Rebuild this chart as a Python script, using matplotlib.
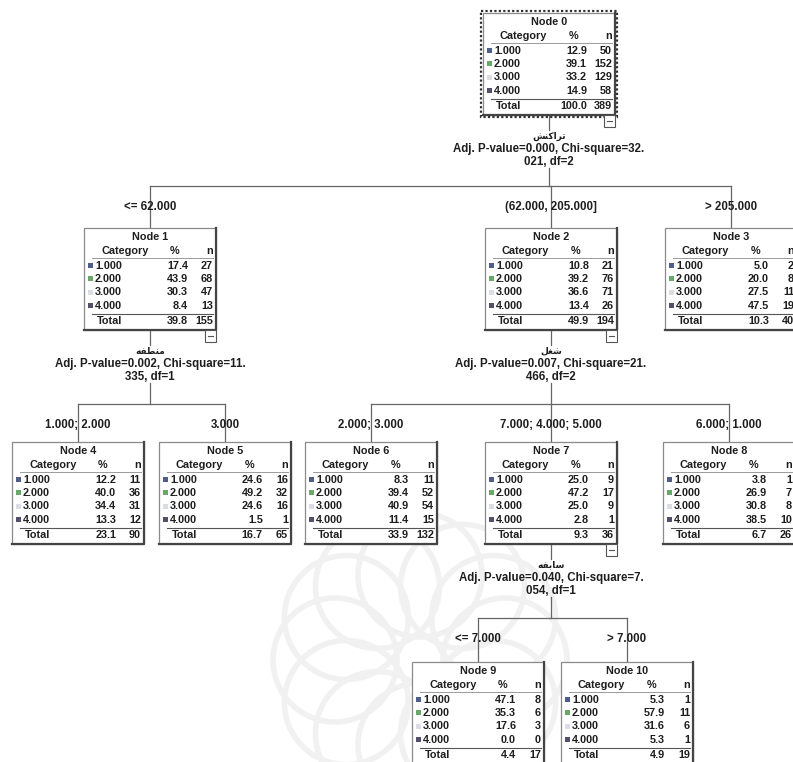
import matplotlib
matplotlib.use("Agg")
import matplotlib.pyplot as plt
from matplotlib.patches import Rectangle, Circle
import numpy as np

# ---------------- data ----------------
categories = ["1.000", "2.000", "3.000", "4.000"]
node_names = ["Node 0", "Node 1", "Node 2", "Node 3", "Node 4", "Node 5",
              "Node 6", "Node 7", "Node 8", "Node 9", "Node 10"]
node_pct = [
    [12.9, 39.1, 33.2, 14.9],
    [17.4, 43.9, 30.3, 8.4],
    [10.8, 39.2, 36.6, 13.4],
    [5.0, 20.0, 27.5, 47.5],
    [12.2, 40.0, 34.4, 13.3],
    [24.6, 49.2, 24.6, 1.5],
    [8.3, 39.4, 40.9, 11.4],
    [25.0, 47.2, 25.0, 2.8],
    [3.8, 26.9, 30.8, 38.5],
    [47.1, 35.3, 17.6, 0.0],
    [5.3, 57.9, 31.6, 5.3],
]
node_n = [
    [50, 152, 129, 58],
    [27, 68, 47, 13],
    [21, 76, 71, 26],
    [2, 8, 11, 19],
    [11, 36, 31, 12],
    [16, 32, 16, 1],
    [11, 52, 54, 15],
    [9, 17, 9, 1],
    [1, 7, 8, 10],
    [8, 6, 3, 0],
    [1, 11, 6, 1],
]
total_pct = [100.0, 39.8, 49.9, 10.3, 23.1, 16.7, 33.9, 9.3, 6.7, 4.4, 4.9]
total_n = [389, 155, 194, 40, 90, 65, 132, 36, 26, 17, 19]

# tree structure: parent -> children, with branch labels
children = {0: [1, 2, 3], 1: [4, 5], 2: [6, 7, 8], 7: [9, 10]}
branch_labels = {1: "<= 62.000", 2: "(62.000, 205.000]", 3: "> 205.000",
                 4: "1.000; 2.000", 5: "3.000",
                 6: "2.000; 3.000", 7: "7.000; 4.000; 5.000", 8: "6.000; 1.000",
                 9: "<= 7.000", 10: "> 7.000"}

# split variables (Persian, pre-shaped into presentation forms, visual order)
split_var = {
    0: "\uFEB6\uFEE8\uFB90\uFE8D\uFEAE\uFE97",   # تراکنش
    1: "\uFEEA\uFED4\uFEC4\uFEE8\uFEE3",          # منطقه
    2: "\uFEDE\uFED0\uFEB7",                      # شغل
    7: "\uFEEA\uFED4\uFE91\uFE8E\uFEB3",          # سابقه
}
split_stats = {
    0: ("Adj. P-value=0.000, Chi-square=32.", "021, df=2"),
    1: ("Adj. P-value=0.002, Chi-square=11.", "335, df=1"),
    2: ("Adj. P-value=0.007, Chi-square=21.", "466, df=2"),
    7: ("Adj. P-value=0.040, Chi-square=7.", "054, df=1"),
}

# ---------------- layout (pixels) ----------------
node_left = [483, 84, 485, 665, 12, 159, 305, 485, 663, 412, 561]
node_top = [13, 228, 228, 228, 442, 442, 442, 442, 442, 662, 662]
W = 132
H = 102
level_bar_y = {0: 186, 1: 404, 2: 404, 7: 618}

cat_colors = ["#4f5d8a", "#6aa86a", "#dcdce4", "#55506a"]
txt_color = "#1e1e1e"
FS = 7.8
FS_SPLIT = 8.3

fig = plt.figure(figsize=(7.93, 7.62), dpi=100)
ax = fig.add_axes([0, 0, 1, 1])
ax.set_xlim(0, 793)
ax.set_ylim(762, 0)
ax.axis("off")

# faint watermark rosette at bottom centre
for k in range(12):
    ang = np.deg2rad(k * 30)
    cx, cy = 420 + 85 * np.cos(ang), 660 + 85 * np.sin(ang)
    ax.add_patch(Circle((cx, cy), 62, fill=False, ec="#f1f1f1", lw=4, zorder=0))


def T(x, y, s, ha="center", fs=FS, family=None, **kw):
    kws = dict(ha=ha, va="center", fontsize=fs, color=txt_color,
               fontweight="bold", zorder=5)
    kws["family"] = family if family else ["Liberation Sans", "DejaVu Sans"]
    kws.update(kw)
    ax.text(x, y, s, **kws)


def center(i):
    return node_left[i] + W / 2


def draw_node(i):
    L, top = node_left[i], node_top[i]
    R = L + W
    bot = top + H
    ax.add_patch(Rectangle((L, top), W, H, fc="white", ec="#8a8a8a", lw=0.9, zorder=2))
    # shadowed right/bottom edges
    ax.plot([R, R, L], [top, bot, bot], color="#444444", lw=1.6, zorder=3)
    if i == 0:
        ax.add_patch(Rectangle((L - 2, top - 2), W + 4, H + 4, fill=False,
                               ec="#333333", lw=1.6, ls=(0, (1, 1)), zorder=3))
    T(L + W / 2, top + 9, node_names[i])
    T(L + 17, top + 23, "Category", ha="left")
    T(L + 91, top + 23, "%", ha="center")
    T(R - 3, top + 23, "n", ha="right")
    ax.plot([L + 8, R - 3], [top + 29.5, top + 29.5], color="#9a9a9a", lw=0.7, zorder=3)
    for k, cat in enumerate(categories):
        y = top + 38 + 13.2 * k
        ax.add_patch(Rectangle((L + 4, y - 2.8), 5, 5, fc=cat_colors[k],
                               ec="none", zorder=4))
        T(L + 11, y, cat, ha="left")
        T(L + 104, y, f"{node_pct[i][k]:.1f}", ha="right")
        T(R - 3, y, f"{node_n[i][k]}", ha="right")
    ax.plot([L + 8, R - 3], [top + 86, top + 86], color="#555555", lw=0.8, zorder=3)
    T(L + 13, top + 93, "Total", ha="left")
    T(L + 104, top + 93, f"{total_pct[i]:.1f}", ha="right")
    T(R - 3, top + 93, f"{total_n[i]}", ha="right")
    if i in children:
        ax.add_patch(Rectangle((R - 11, bot), 11, 12, fc="white", ec="#555555",
                               lw=0.8, zorder=4))
        ax.plot([R - 8, R - 3], [bot + 6, bot + 6], color="#555555", lw=0.8, zorder=5)


for i in range(len(node_names)):
    draw_node(i)

# splits and connectors
for p, kids in children.items():
    cx = center(p)
    bot = node_top[p] + H
    ybar = level_bar_y[p]
    t0 = bot + 21
    ax.plot([cx, cx], [bot, t0 - 6], color="#666666", lw=0.9, zorder=1)
    T(cx, t0, split_var[p], family=["DejaVu Sans"], fs=6.5)
    T(cx, t0 + 13, split_stats[p][0], fs=FS_SPLIT)
    T(cx, t0 + 26, split_stats[p][1], fs=FS_SPLIT)
    ax.plot([cx, cx], [t0 + 32, ybar], color="#666666", lw=0.9, zorder=1)
    xs = [center(c) for c in kids]
    ax.plot([min(xs), max(xs)], [ybar, ybar], color="#666666", lw=0.9, zorder=1)
    for c in kids:
        ax.plot([center(c), center(c)], [ybar, node_top[c]], color="#666666",
                lw=0.9, zorder=1)
        T(center(c), ybar + 21, branch_labels[c], fs=FS_SPLIT)

fig.savefig("out.png", dpi=100, facecolor="white")
